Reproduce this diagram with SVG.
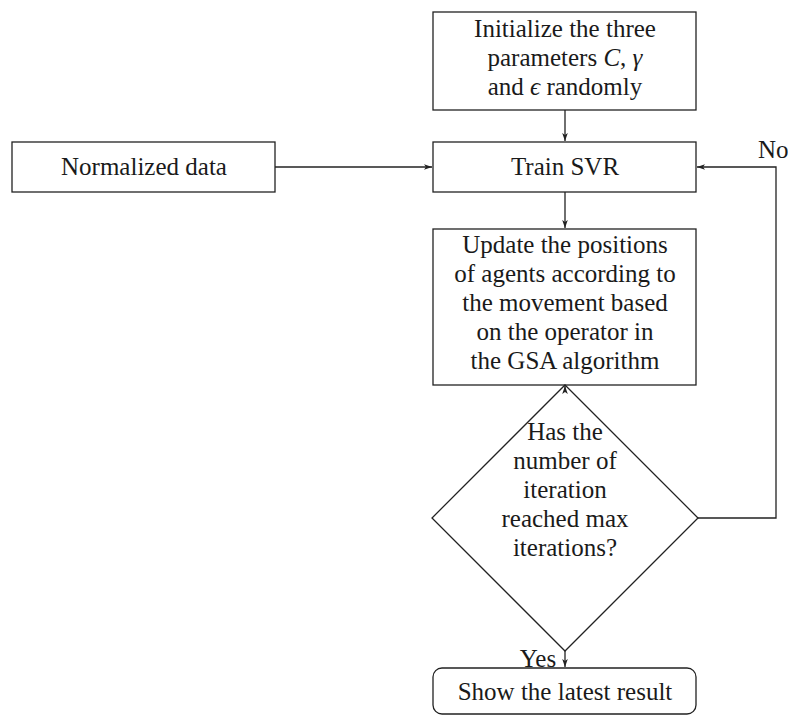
<svg xmlns="http://www.w3.org/2000/svg" width="788" height="716" viewBox="0 0 788 716">
<style>
.box{fill:#fff;stroke:#222;stroke-width:1.3}
.ln{fill:none;stroke:#222;stroke-width:1.3}
text{font-family:"Liberation Serif","Times New Roman",serif;font-size:25px;fill:#1a1a1a;text-anchor:middle}
.it{font-style:italic}
</style>
<defs>
<marker id="ah" viewBox="0 0 10 10" refX="10" refY="5" markerWidth="8" markerHeight="8" markerUnits="userSpaceOnUse" orient="auto">
<path d="M0,1.5 L10,5 L0,8.5 L2.5,5 Z" fill="#222"/>
</marker>
</defs>
<rect width="788" height="716" fill="#fff"/>
<g id="connectors">
<line class="ln" x1="565" y1="110" x2="565" y2="141" marker-end="url(#ah)"/>
<line class="ln" x1="275" y1="167" x2="432" y2="167" marker-end="url(#ah)"/>
<line class="ln" x1="565" y1="192" x2="565" y2="228" marker-end="url(#ah)"/>
<line class="ln" x1="565" y1="392" x2="565" y2="386" marker-end="url(#ah)"/>
<polyline class="ln" points="698,518 776,518 776,167 697,167" marker-end="url(#ah)"/>
<line class="ln" x1="565" y1="651" x2="565" y2="667" marker-end="url(#ah)"/>
<text x="758" y="158" style="text-anchor:start">No</text>
<text x="538" y="667">Yes</text>
</g>
<g id="init">
<rect class="box" x="433" y="12" width="263" height="98"/>
<text x="565" y="37">Initialize the three</text>
<text x="565" y="66">parameters <tspan class="it">C</tspan>, <tspan class="it">γ</tspan></text>
<text x="565" y="95">and <tspan class="it">ϵ</tspan> randomly</text>
</g>
<g id="normalized">
<rect class="box" x="12" y="142" width="263" height="50"/>
<text x="144" y="175">Normalized data</text>
</g>
<g id="train">
<rect class="box" x="433" y="142" width="263" height="50"/>
<text x="565" y="175">Train SVR</text>
</g>
<g id="update">
<rect class="box" x="433" y="229" width="263" height="156"/>
<text x="565" y="253">Update the positions</text>
<text x="565" y="282">of agents according to</text>
<text x="565" y="311">the movement based</text>
<text x="565" y="340">on the operator in</text>
<text x="565" y="369">the GSA algorithm</text>
</g>
<g id="decision">
<polygon class="box" style="fill:none" points="565,385 698,518 565,651 432,518"/>
<text x="565" y="440">Has the</text>
<text x="565" y="469">number of</text>
<text x="565" y="498">iteration</text>
<text x="565" y="527">reached max</text>
<text x="565" y="556">iterations?</text>
</g>
<g id="result">
<rect class="box" x="433" y="668" width="263" height="46" rx="9"/>
<text x="565" y="700">Show the latest result</text>
</g>
</svg>
